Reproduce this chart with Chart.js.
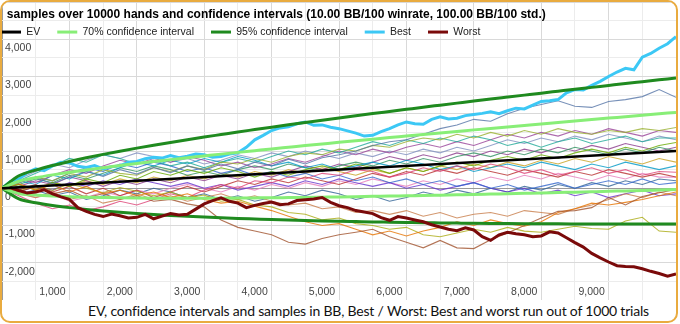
<!DOCTYPE html>
<html>
<head>
<meta charset="utf-8">
<script src="https://cdn.jsdelivr.net/npm/chart.js@4/dist/chart.umd.min.js"></script>
<style>
  body { margin: 0; background: #fff; }
  #frame {
    position: absolute; left: 0; top: 0; width: 678px; height: 323px;
    box-sizing: border-box; border: 2px solid #e9ab3f; border-radius: 10px; overflow: hidden;
  }
  #mainChart { position: absolute; left: 0; top: 0; }
  #caption {
    position: absolute; left: 86px; top: 299px; height: 20px; line-height: 20px;
    font-family: Lato, "DejaVu Sans", sans-serif; font-size: 14px; letter-spacing: -0.2px;
    color: #111; white-space: nowrap;
  }
</style>
</head>
<body>
<div id="frame">
  <canvas id="mainChart" width="674" height="298"></canvas>
  <div id="caption">EV, confidence intervals and samples in BB, Best / Worst: Best and worst run out of 1000 trials</div>
</div>
<script>
// hands played, one point every 250 hands
var hands = [0,250,500,750,1000,1250,1500,1750,2000,2250,2500,2750,3000,3250,3500,3750,4000,4250,4500,4750,
  5000,5250,5500,5750,6000,6250,6500,6750,7000,7250,7500,7750,8000,8250,8500,8750,9000,9250,9500,9750,10000];
// best / worst runs are read a bit finer, every 125 hands
var handsFine = [0,125,250,375,500,625,750,875,1000,1125,1250,1375,1500,1625,1750,1875,2000,2125,2250,2375,
  2500,2625,2750,2875,3000,3125,3250,3375,3500,3625,3750,3875,4000,4125,4250,4375,4500,4625,4750,4875,
  5000,5125,5250,5375,5500,5625,5750,5875,6000,6125,6250,6375,6500,6625,6750,6875,7000,7125,7250,7375,
  7500,7625,7750,7875,8000,8125,8250,8375,8500,8625,8750,8875,9000,9125,9250,9375,9500,9625,9750,9875,10000];

var evHands = [0, 10000];
var evValues = [0, 1000];

var ci70Upper = [0,189,282,359,428,491,551,608,663,716,768,818,867,916,963,1009,1055,1100,1145,1189,
  1233,1276,1318,1361,1402,1444,1485,1526,1567,1607,1647,1687,1727,1766,1805,1844,1883,1921,1960,1998,2036];
var ci70Lower = [0,-139,-182,-209,-228,-241,-251,-258,-263,-266,-268,-268,-267,-266,-263,-259,-255,-250,-245,-239,
  -233,-226,-218,-211,-202,-194,-185,-176,-167,-157,-147,-137,-127,-116,-105,-94,-83,-71,-60,-48,-36];
var ci95Upper = [0,335,488,612,720,818,909,995,1077,1155,1230,1303,1374,1442,1510,1575,1640,1703,1765,1826,
  1886,1945,2004,2061,2118,2175,2230,2285,2340,2394,2447,2500,2553,2605,2657,2708,2759,2810,2860,2910,2960];
var ci95Lower = [0,-285,-388,-462,-520,-568,-609,-645,-677,-705,-730,-753,-774,-792,-810,-825,-840,-853,-865,-876,
  -886,-895,-904,-911,-918,-925,-930,-935,-940,-944,-947,-950,-953,-955,-957,-958,-959,-960,-960,-960,-960];

var bestRun = [0,180,250,420,520,470,600,700,680,590, 560,610,520,580,600,700,720,790,830,810,
  880,820,860,920,900,830,850,920,950,1100, 1300,1420,1550,1620,1650,1730,1780,1690,1700,1640,
  1600,1540,1480,1400,1420,1520,1600,1700,1780,1730, 1720,1850,1920,1860,1880,1950,1980,2010,2050,2000,
  2080,2150,2130,2230,2330,2350,2380,2560,2650,2640, 2760,2870,3000,3120,3220,3180,3520,3620,3760,3880,4070];
var worstRun = [0,20,-60,-130,-100,-40,-150,-230,-300,-520, -620,-700,-760,-690,-740,-800,-780,-700,-820,-750,
  -680,-720,-700,-560,-420,-330,-260,-350,-400,-520, -460,-410,-370,-440,-420,-330,-310,-290,-250,-380,
  -470,-520,-600,-640,-680,-790,-860,-760,-800,-850, -900,-980,-1040,-1100,-1140,-1060,-1120,-1300,-1400,-1250,
  -1180,-1220,-1250,-1300,-1280,-1170,-1200,-1330,-1460,-1580, -1750,-1870,-1980,-2080,-2100,-2110,-2160,-2230,-2290,-2360,-2300];

var sampleRuns = [
  [0,150,280,120,300,450,320,500,380,560,420,600,480,650,520,700,600,780,650,820,900,1000,1150,1250,1300,1450,1600,1700,1850,1800,2000,2150,2250,2350,2200,2170,2330,2380,2460,2650,2440],
  [0,-100,50,-150,-50,-250,-150,-300,-200,-350,-300,-420,-500,-850,-1050,-1150,-1250,-1450,-1500,-1350,-1250,-1180,-1100,-1300,-1450,-1600,-1400,-1600,-1620,-1380,-1200,-1000,-800,-620,-600,-520,-250,-450,-220,-120,-30],
  [0,120,-50,100,-100,50,-150,-50,-200,-100,-250,-150,-300,-400,-350,-480,-600,-750,-900,-1000,-950,-1100,-1250,-1150,-1280,-1150,-1050,-900,-1000,-850,-950,-1020,-900,-650,-550,-400,-450,-380,-300,-200,-100],
  [0,-80,80,-60,120,0,-120,20,-80,-200,-100,-250,-180,-350,-300,-450,-500,-650,-700,-850,-800,-950,-1000,-1100,-1050,-1250,-1300,-1200,-1100,-1180,-1050,-1150,-1180,-1100,-1020,-1080,-1100,-880,-780,-1150,-1180],
  [0,-150,-250,-100,-300,-200,-400,-300,-150,-300,-200,-350,-250,-150,-300,-200,-350,-450,-400,-550,-500,-650,-600,-700,-600,-750,-650,-800,-700,-650,-750,-600,-650,-700,-550,-450,-300,-150,-250,-100,-200],
  [0,150,300,200,400,300,500,400,350,550,450,600,500,700,650,800,700,850,950,900,1050,1000,1150,1100,1250,1350,1300,1450,1350,1500,1400,1550,1450,1600,1500,1450,1550,1500,1600,1550,1630],
  [0,-200,-400,-550,-450,-600,-500,-350,-450,-300,-150,-250,-50,100,0,200,150,300,250,400,350,500,450,300,400,550,450,600,500,650,550,400,500,350,450,550,400,500,350,450,430],
  [0,200,400,600,800,700,900,800,650,750,600,700,550,700,800,700,850,1000,900,1050,950,1100,1250,1150,1300,1200,1350,1250,1400,1300,1150,1250,1100,1250,1350,1200,1300,1400,1250,1350,1350],
  [0,100,-50,150,50,250,150,350,250,450,350,500,400,550,450,300,450,350,500,600,500,650,550,400,550,450,600,700,600,750,850,750,900,800,950,1050,950,1100,1000,1150,1230],
  [0,250,150,350,500,400,600,750,650,800,700,850,750,600,700,550,650,800,700,850,1000,900,1050,950,1100,1200,1100,1250,1150,1300,1450,1350,1500,1400,1550,1450,1600,1500,1400,1550,1500],
  [0,150,300,200,400,550,450,650,550,700,600,450,550,400,500,350,450,300,400,250,350,200,300,150,250,100,200,50,150,0,100,-50,50,150,0,100,200,100,250,100,150],
  [0,-100,50,-50,150,50,200,100,250,150,50,150,0,100,-50,50,150,50,200,100,250,150,50,150,0,100,-50,50,150,0,-100,0,-150,-50,-200,-100,-250,-150,-50,-200,-150],
  [0,-50,100,-100,50,-150,0,-200,-50,-250,-100,50,-100,50,200,100,250,150,300,200,100,250,400,300,450,350,500,400,550,450,350,500,400,300,450,350,500,400,300,400,300],
  [0,200,100,350,250,450,350,550,700,600,750,650,800,700,850,750,600,700,550,650,500,600,700,600,750,650,500,600,450,550,650,550,700,600,500,650,550,700,600,500,600],
  [0,-100,-250,-150,-350,-250,-100,-200,-50,-150,0,100,0,-100,50,-50,100,0,150,50,200,100,250,150,50,200,100,250,150,300,200,350,250,400,300,200,350,250,400,300,300],
  [0,100,250,150,350,250,400,550,450,600,500,350,450,350,500,600,500,650,550,450,600,700,600,750,650,800,700,850,950,850,1000,900,1050,950,1100,1000,900,1050,950,1100,1000],
  [0,-150,-50,-200,-100,-300,-200,-50,-150,0,-100,-250,-150,-300,-200,-350,-250,-100,-200,-50,-150,-300,-200,-350,-250,-100,-200,-50,-150,0,-100,50,-50,100,0,150,50,200,100,250,200],
  [0,50,200,100,300,200,50,200,100,250,150,300,200,350,250,400,300,450,600,500,650,550,700,850,750,900,800,950,850,1000,900,1050,950,1100,1000,1150,1050,1200,1100,1000,1100],
  [0,100,0,150,50,200,100,250,150,300,200,350,250,400,300,450,350,500,400,550,450,350,500,400,550,450,600,500,650,550,700,600,750,650,800,700,850,750,650,800,700],
  [0,250,450,650,550,750,900,800,950,850,700,800,650,750,900,800,950,850,1000,900,800,950,850,1000,900,1050,950,1100,1000,1150,1300,1200,1350,1250,1400,1300,1450,1350,1250,1400,1300]
];
var sampleColors = ['#5574a6','#a0522d','#e67300','#aaaa11','#c87d4a','#99b030','#dd4477','#22aa99','#66aa00','#994499',
  '#3366cc','#6633cc','#b82e2e','#0099c6','#e67ebc','#329262','#316395','#8b3a8b','#c8a020','#7f8fbf'];

function toPoints(xs, ys) {
  return ys.map(function (v, i) { return { x: xs[i], y: v }; });
}

function thickLine(label, color, xs, ys, width, smooth) {
  return {
    label: label, data: toPoints(xs, ys),
    borderColor: color, backgroundColor: color, borderWidth: width,
    pointRadius: 0, tension: 0, cubicInterpolationMode: smooth ? 'monotone' : 'default'
  };
}

// first five datasets make up the legend, dataset 0 is drawn on top
var datasets = [
  thickLine('EV', '#000000', evHands, evValues, 2.5, false),
  thickLine('70% confidence interval', '#88ee77', hands, ci70Upper, 3, true),
  thickLine('95% confidence interval', '#1f8a1f', hands, ci95Upper, 3, true),
  thickLine('Best', '#3cc8f5', handsFine, bestRun, 3, false),
  thickLine('Worst', '#7a0a0a', handsFine, worstRun, 3, false),
  thickLine('', '#88ee77', hands, ci70Lower, 3, true),
  thickLine('', '#1f8a1f', hands, ci95Lower, 3, true)
];

sampleRuns.forEach(function (run, i) {
  datasets.push({
    label: '', data: toPoints(hands, run),
    borderColor: sampleColors[i] + 'cc', backgroundColor: sampleColors[i],
    borderWidth: 1.1, pointRadius: 0, tension: 0
  });
});

function gridColor(ctx) {
  var v = ctx.tick ? ctx.tick.value : 0;
  if (v === 0) return '#9a9a9a';
  return v % 1000 === 0 ? '#d9d9d9' : '#ececec';
}

// labels sit inside the plot, so the scales must not reserve any room
function noRoom(scale) {
  scale.paddingTop = 0; scale.paddingBottom = 0;
  scale.paddingLeft = 0; scale.paddingRight = 0;
  if (!scale.isHorizontal()) scale.width = 0;
}

// legend floats over the plot in one row, like the original
var floatingLegend = {
  id: 'floatingLegend',
  afterInit: function (chart) {
    chart.legend.isHorizontal = function () { return true; };
  },
  afterLayout: function (chart) {
    chart.legend.left -= 18;
  }
};

var tickFont = { family: 'Liberation Sans, Arial, sans-serif', size: 10.5 };

var config = {
  type: 'line',
  data: { datasets: datasets },
  plugins: [floatingLegend],
  options: {
    responsive: false,
    animation: false,
    devicePixelRatio: 1,
    layout: { padding: 0 },
    plugins: {
      tooltip: { enabled: false },
      legend: {
        position: 'chartArea',
        align: 'start',
        labels: {
          boxWidth: 20, boxHeight: 3, padding: 17,
          font: tickFont, color: '#222',
          filter: function (item) { return item.text !== ''; },
          generateLabels: function (chart) {
            return Chart.defaults.plugins.legend.labels.generateLabels(chart).map(function (l) {
              l.lineWidth = 0;
              return l;
            });
          }
        },
        title: {
          display: true, position: 'start', color: '#000',
          text: '\u2002\u2002\u2002\u2009\u2009samples over 10000 hands and confidence intervals (10.00 BB/100 winrate, 100.00 BB/100 std.)',
          font: { family: 'Liberation Sans, Arial, sans-serif', size: 12, weight: 'bold' },
          padding: { top: 7, bottom: -13.6 }
        }
      }
    },
    scales: {
      x: {
        type: 'linear', min: 0, max: 10000,
        position: { y: -2500 },
        border: { display: false },
        grid: { color: gridColor, drawTicks: false },
        afterFit: noRoom,
        ticks: {
          stepSize: 500, autoSkip: false, maxRotation: 0, padding: 4, labelOffset: -17,
          font: tickFont, color: '#444',
          callback: function (v) { return (v % 1000 === 0 && v >= 1000 && v <= 9000) ? v.toLocaleString('en-US') : ''; }
        }
      },
      y: {
        min: -3000, max: 5000,
        border: { display: false },
        grid: { color: gridColor, drawTicks: false },
        afterFit: noRoom,
        ticks: {
          stepSize: 500, autoSkip: false, mirror: true, padding: 3, labelOffset: 9,
          font: tickFont, color: '#444',
          callback: function (v) { return (v % 1000 === 0 && v >= -2000 && v <= 4000) ? v.toLocaleString('en-US') : ''; }
        }
      }
    }
  }
};

var ctx = document.getElementById('mainChart');
new Chart(ctx, config);
</script>
</body>
</html>
